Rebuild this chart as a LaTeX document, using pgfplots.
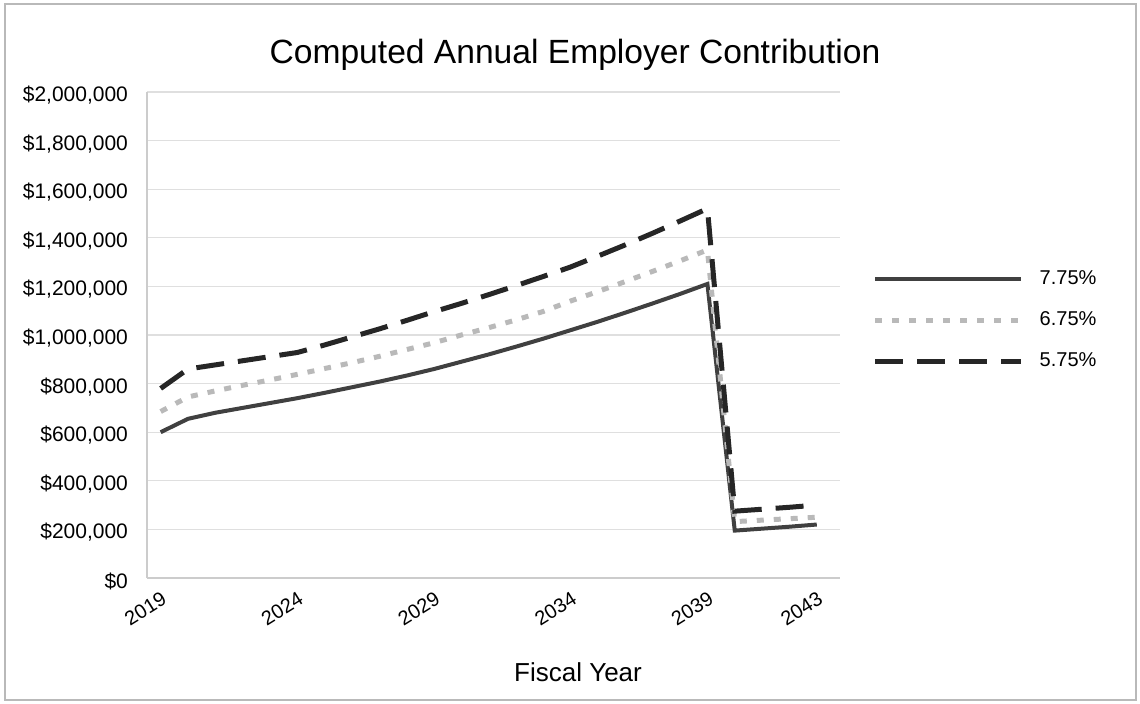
\documentclass[border=0pt]{standalone}
\usepackage{pgfplots}
\pgfplotsset{compat=1.18}
\usepackage{fontspec}
\setmainfont{Liberation Sans}

\begin{document}
\begin{tikzpicture}
\begin{axis}[
  name=ax,
  scale only axis,
  width=346.5pt, height=243pt,
  xmin=2018.5, xmax=2043.85,
  ymin=0, ymax=2000000,
  xtick={2019,2024,2029,2034,2039,2043},
  xticklabels={2019,2024,2029,2034,2039,2043},
  xticklabel style={rotate=32, anchor=north east, yshift=-2pt, font=\fontsize{10}{12}\selectfont},
  ytick={0,200000,400000,600000,800000,1000000,1200000,1400000,1600000,1800000,2000000},
  yticklabels={{\$0},{\$200,000},{\$400,000},{\$600,000},{\$800,000},{\$1,000,000},{\$1,200,000},{\$1,400,000},{\$1,600,000},{\$1,800,000},{\$2,000,000}},
  yticklabel style={xshift=-6pt, yshift=-1.5pt, font=\fontsize{10.5}{12}\selectfont},
  scaled y ticks=false,
  /pgf/number format/assume math mode=true,
  ymajorgrids,
  grid style={gray!25, line width=0.6pt},
  axis x line*=bottom, axis y line*=left,
  axis line style={gray!40, line width=0.6pt},
  major tick length=0pt,
  legend style={at={(1.038,0.53)}, anchor=west, draw=none, fill=none,
    font=\fontsize{10}{12}\selectfont, row sep=8pt,
    /tikz/every odd column/.append style={column sep=6pt}},
  legend cell align=left,
  legend image code/.code={\draw[#1] (0pt,0pt) -- (73pt,0pt);},
]
% 7.75%
\addplot[gray!50!black, line width=2pt] coordinates {
(2019,600000)(2020,655000)(2021,680000)(2022,700000)(2023,720000)(2024,740000)
(2025,762000)(2026,785000)(2027,808000)(2028,833000)(2029,860000)
(2030,890000)(2031,920000)(2032,952000)(2033,985000)(2034,1020000)
(2035,1055000)(2036,1092000)(2037,1130000)(2038,1169000)(2039,1210000)
(2040,195000)(2041,203000)(2042,211000)(2043,220000)
};
% 6.75%
\addplot[gray!55, line width=2.5pt, dash pattern=on 3.5pt off 5pt] coordinates {
(2019,685000)(2020,745000)(2021,770000)(2022,793000)(2023,815000)(2024,838000)
(2025,862000)(2026,886000)(2027,912000)(2028,940000)(2029,968000)
(2030,1000000)(2031,1030000)(2032,1062000)(2033,1097000)(2034,1140000)
(2035,1179000)(2036,1220000)(2037,1262000)(2038,1305000)(2039,1350000)
(2040,232000)(2041,238000)(2042,244000)(2043,250000)
};
% 5.75%
\addplot[black!85, line width=2.5pt, dash pattern=on 14pt off 7pt] coordinates {
(2019,780000)(2020,860000)(2021,877000)(2022,894000)(2023,911000)(2024,928000)
(2025,959000)(2026,992000)(2027,1025000)(2028,1060000)(2029,1096000)
(2030,1130000)(2031,1166000)(2032,1203000)(2033,1241000)(2034,1280000)
(2035,1325000)(2036,1371000)(2037,1419000)(2038,1469000)(2039,1520000)
(2040,275000)(2041,283000)(2042,291000)(2043,300000)
};
\legend{7.75\%,6.75\%,5.75\%}
\end{axis}
\path[use as bounding box] ([xshift=-73.5pt,yshift=-63pt]ax.south west) rectangle ([xshift=150pt,yshift=46pt]ax.north east);
\draw[gray!55, line width=0.6pt] ([xshift=-71pt,yshift=-61pt]ax.south west) rectangle ([xshift=148pt,yshift=44pt]ax.north east);
\node[font=\fontsize{16.8}{20}\selectfont] at ([xshift=214pt,yshift=18.5pt]ax.north west) {Computed Annual Employer Contribution};
\node[font=\fontsize{13}{16}\selectfont] at ([xshift=215.5pt,yshift=-47pt]ax.south west) {Fiscal Year};
\end{tikzpicture}
\end{document}
